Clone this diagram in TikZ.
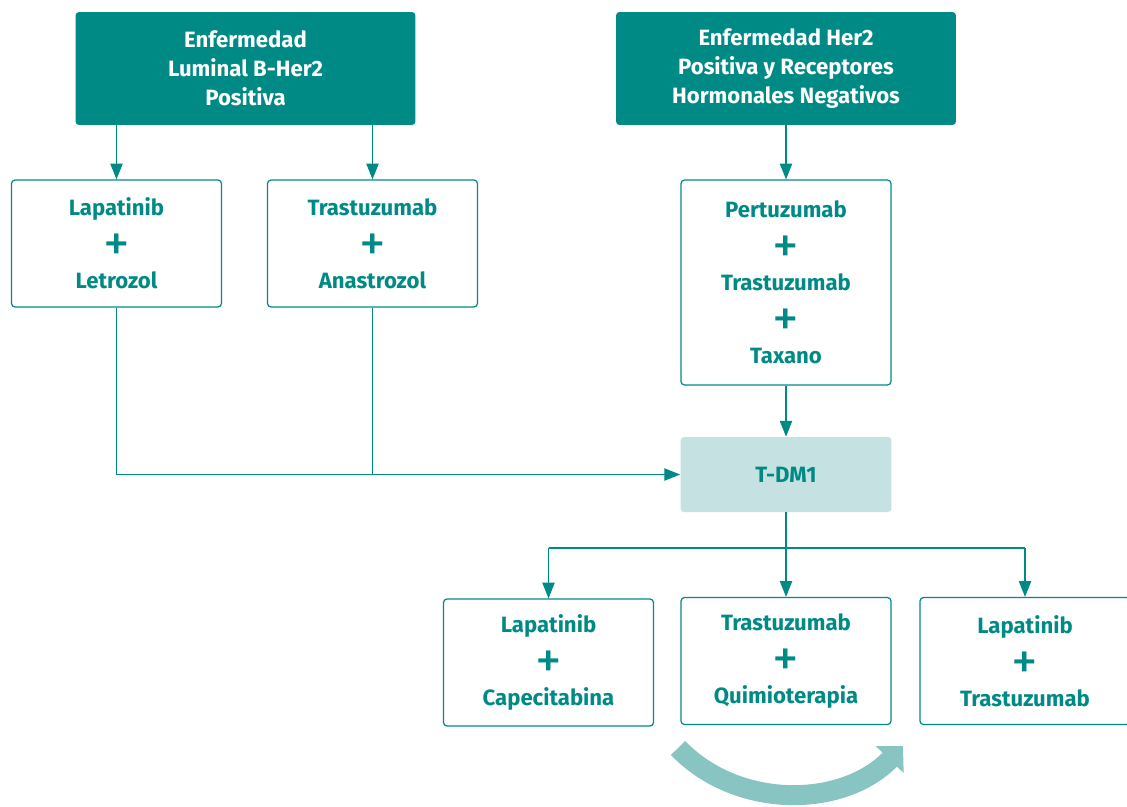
\documentclass[tikz,border=0pt]{standalone}
\usepackage{fontspec}
\usepackage{graphicx}
\setmainfont{Fira Sans}
\usetikzlibrary{arrows.meta}

\definecolor{tealdark}{RGB}{0,138,133}
\definecolor{teallight}{RGB}{198,225,225}
\definecolor{tealarrow}{RGB}{135,196,194}

\newcommand{\bigplus}{\raisebox{-5.5pt}{\scalebox{2.4}{\mdseries +}}}

\begin{document}
\begin{tikzpicture}[x=0.02cm, y=-0.02cm, font=\bfseries\fontsize{12.6}{16.5}\selectfont,
  head/.style={rectangle, rounded corners=2pt, fill=tealdark, text=white, align=center, minimum width=6.8cm, minimum height=2.26cm},
  drug/.style={rectangle, rounded corners=2pt, draw=tealdark, line width=0.7pt, text=tealdark, align=center, minimum width=4.2cm, minimum height=2.54cm, font=\bfseries\fontsize{12.6}{20.8}\selectfont},
  arr/.style={draw=tealdark, line width=0.7pt, -{Triangle[length=9pt, width=7pt]}},
  link/.style={draw=tealdark, line width=0.7pt}]
  \useasboundingbox (0,0) rectangle (1127,806);

  % headers
  \node[head] (lum) at (245.5,68.5) {Enfermedad\\Luminal B-Her2\\Positiva};
  \node[head] (her) at (786,68.5) {Enfermedad Her2\\Positiva y Receptores\\Hormonales Negativos};

  % first line
  \node[drug] (l1) at (116.5,243.5) {Lapatinib\\ \bigplus \\Letrozol};
  \node[drug] (l2) at (372.5,243.5) {Trastuzumab\\ \bigplus \\Anastrozol};
  \node[drug, minimum height=4.1cm] (pert) at (786,282.5) {Pertuzumab\\ \bigplus \\Trastuzumab\\ \bigplus \\Taxano};

  \node[rectangle, rounded corners=2pt, fill=teallight, text=tealdark, minimum width=4.22cm, minimum height=1.5cm] (tdm) at (786,474.5) {T-DM1};

  % after T-DM1
  \node[drug] (b1) at (548.5,662.5) {Lapatinib\\ \bigplus \\Capecitabina};
  \node[drug] (b2) at (786,661) {Trastuzumab\\ \bigplus \\Quimioterapia};
  \node[drug] (b3) at (1025,661) {Lapatinib\\ \bigplus \\Trastuzumab};

  \draw[arr] (l1 |- lum.south) -- (l1.north);
  \draw[arr] (l2 |- lum.south) -- (l2.north);
  \draw[arr] (her) -- (pert);
  \draw[arr] (l1.south) |- (tdm.west);
  \draw[link] (l2.south) -- (l2 |- tdm.west);
  \draw[arr] (pert) -- (tdm);

  \coordinate (split) at (786,548);
  \draw[link] (tdm.south) -- (split);
  \draw[link] (split -| b1) -- (split -| b3);
  \foreach \b in {b1,b2,b3}
    \draw[arr] (split -| \b) -- (\b.north);

  % big curved arrow
  \draw[tealarrow, line width=0.4cm, -{Triangle[length=0.38cm, width=0.75cm]}]
    (678,748) .. controls (738,810) and (843,808) .. (903,746);
\end{tikzpicture}
\end{document}
